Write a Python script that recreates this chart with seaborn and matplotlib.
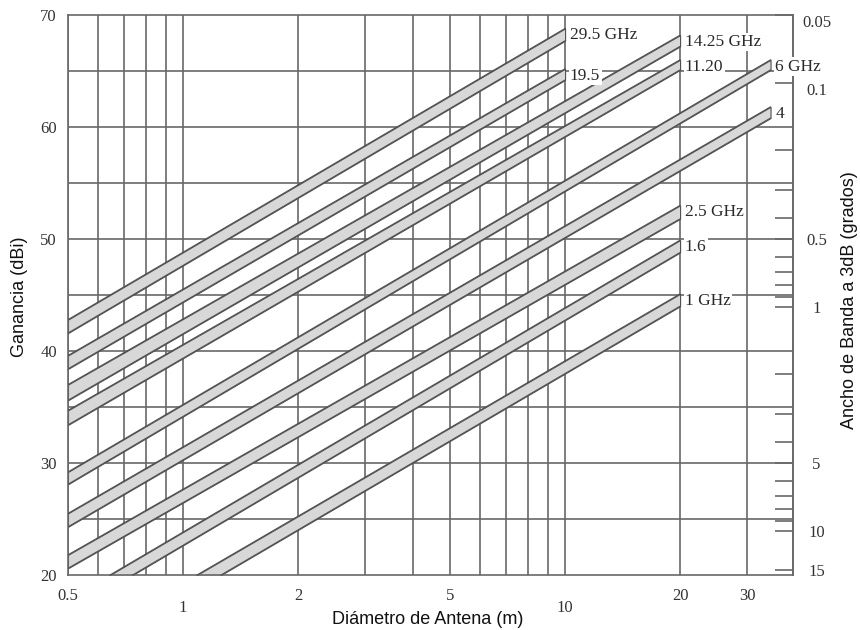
import numpy as np
import pandas as pd
import matplotlib
matplotlib.use("Agg")
import matplotlib.pyplot as plt
import seaborn as sns

# bandas de ganancia: borde inferior / superior
freq_labels = ["29.5 GHz", "19.5", "14.25 GHz", "11.20", "6 GHz", "4", "2.5 GHz", "1.6", "1 GHz"]
d_start = [0.5, 0.5, 0.5, 0.5, 0.5, 0.5, 0.5, 0.5, 0.5]
d_end = [10, 10, 20, 20, 34.5, 34.5, 20, 20, 20]
g_low_start = [41.6, 38.4, 35.6, 33.4, 28.1, 24.3, 20.6, 16.6, 12.0]
g_high_start = [42.8, 39.6, 37.0, 34.7, 29.2, 25.5, 21.8, 17.8, 13.3]
g_low_end = [67.7, 64.2, 67.2, 65.1, 65.1, 60.8, 51.8, 48.8, 44.0]
g_high_end = [68.8, 65.2, 68.2, 66.0, 66.0, 61.8, 53.0, 49.9, 45.1]

# eje derecho: ancho de banda a 3 dB (grados)
bw_major = [0.05, 0.1, 0.5, 1, 5, 10, 15]
bw_major_labels = ["0.05", "0.1", "0.5", "1", "5", "10", "15"]
bw_minor = [0.2, 0.3, 0.4, 0.6, 0.7, 0.8, 0.9, 2, 3, 4, 6, 7, 8, 9]
bw_ref_gain = 43.95  # ganancia para 1 grado

x_ticks = [0.5, 2, 5, 20, 30]
x_ticks_low = [1, 10]
x_grid = [0.5, 0.6, 0.7, 0.8, 0.9, 1, 2, 3, 4, 5, 6, 7, 8, 9, 10, 20, 30]
y_grid = [25, 30, 35, 40, 45, 50, 55, 60, 65]

sns.set_theme(style="white")
plt.rcParams["font.family"] = ["Liberation Serif", "DejaVu Serif"]

grid_c = "#686868"
edge_c = "#505050"
fill_c = "#d8d8d8"
txt_c = "#2a2a2a"

def bw_to_gain(bw):
    return bw_ref_gain - 20 * np.log10(np.asarray(bw, dtype=float))

rows = []
for i, lab in enumerate(freq_labels):
    rows.append(dict(line=lab + "_lo", diam=d_start[i], gain=g_low_start[i]))
    rows.append(dict(line=lab + "_lo", diam=d_end[i], gain=g_low_end[i]))
    rows.append(dict(line=lab + "_hi", diam=d_start[i], gain=g_high_start[i]))
    rows.append(dict(line=lab + "_hi", diam=d_end[i], gain=g_high_end[i]))
df = pd.DataFrame(rows)

fig = plt.figure(figsize=(8.6, 6.3), dpi=100)
ax = fig.add_axes([68 / 860, 1 - 575 / 630, 725 / 860, 560 / 630])
ax.set_xscale("log")
ax.set_xlim(0.5, 39.5)
ax.set_ylim(20, 70)

for x in x_grid:
    ax.axvline(x, color=grid_c, lw=1.2, zorder=1)
for y in y_grid:
    ax.axhline(y, color=grid_c, lw=1.2, zorder=1)

for i in range(len(freq_labels)):
    ax.fill_between([d_start[i], d_end[i]], [g_low_start[i], g_low_end[i]],
                    [g_high_start[i], g_high_end[i]], facecolor=fill_c,
                    edgecolor=edge_c, lw=0.8, zorder=2)
sns.lineplot(data=df, x="diam", y="gain", units="line", estimator=None,
             color=edge_c, lw=0.8, ax=ax, legend=False, zorder=3)

ax.set_xticks(x_ticks, labels=["0.5", "2", "5", "20", "30"])
ax.set_xticks(x_ticks_low, labels=["1", "10"], minor=True)
ax.set_yticks([20, 30, 40, 50, 60, 70])
ax.tick_params(axis="x", which="major", length=0, pad=9, labelsize=12, labelcolor="#333")
ax.tick_params(axis="x", which="minor", length=0, pad=18, labelsize=12, labelcolor="#333")
ax.tick_params(axis="y", length=0, pad=8, labelsize=12, labelcolor="#333")
ax.set_xlabel("")
ax.set_ylabel("")
for s in ax.spines.values():
    s.set_color(grid_c)
    s.set_linewidth(1.2)

ax2 = ax.twinx()
ax2.set_ylim(20, 70)
ax2.set_yticks(bw_to_gain(bw_major), labels=bw_major_labels)
ax2.set_yticks(bw_to_gain(bw_minor), minor=True)
ax2.tick_params(axis="y", which="both", direction="in", length=13, width=1.2,
                color=grid_c, pad=17, labelsize=12, labelcolor="#333")
for j, lab in enumerate(ax2.get_yticklabels()):
    lab.set_horizontalalignment("center")
    if j < 2:
        lab.set_verticalalignment("top")
for side in ["left", "top", "bottom"]:
    ax2.spines[side].set_visible(False)
ax2.spines["right"].set_color(grid_c)
ax2.spines["right"].set_linewidth(1.2)

for i, lab in enumerate(freq_labels):
    ax2.annotate(lab, xy=(d_end[i], g_high_end[i]), xytext=(3.5, -5),
                 textcoords="offset points", ha="left", va="center",
                 fontsize=12.5, color=txt_c, zorder=5, annotation_clip=False,
                 bbox=dict(boxstyle="square,pad=0.08", fc="white", ec="none"))

sans = ["Liberation Sans", "DejaVu Sans"]
fig.text(20 / 860, 1 - 297 / 630, "Ganancia (dBi)", rotation=90, ha="center",
         va="center", fontsize=13, family=sans, color="#111")
fig.text(428 / 860, 1 - 619 / 630, "Diámetro de Antena (m)", ha="center",
         va="center", fontsize=13, family=sans, color="#111")
fig.text(849 / 860, 1 - 300 / 630, "Ancho de Banda a 3dB (grados)", rotation=90,
         ha="center", va="center", fontsize=13, family=sans, color="#111")

fig.savefig("out.png", dpi=100)
